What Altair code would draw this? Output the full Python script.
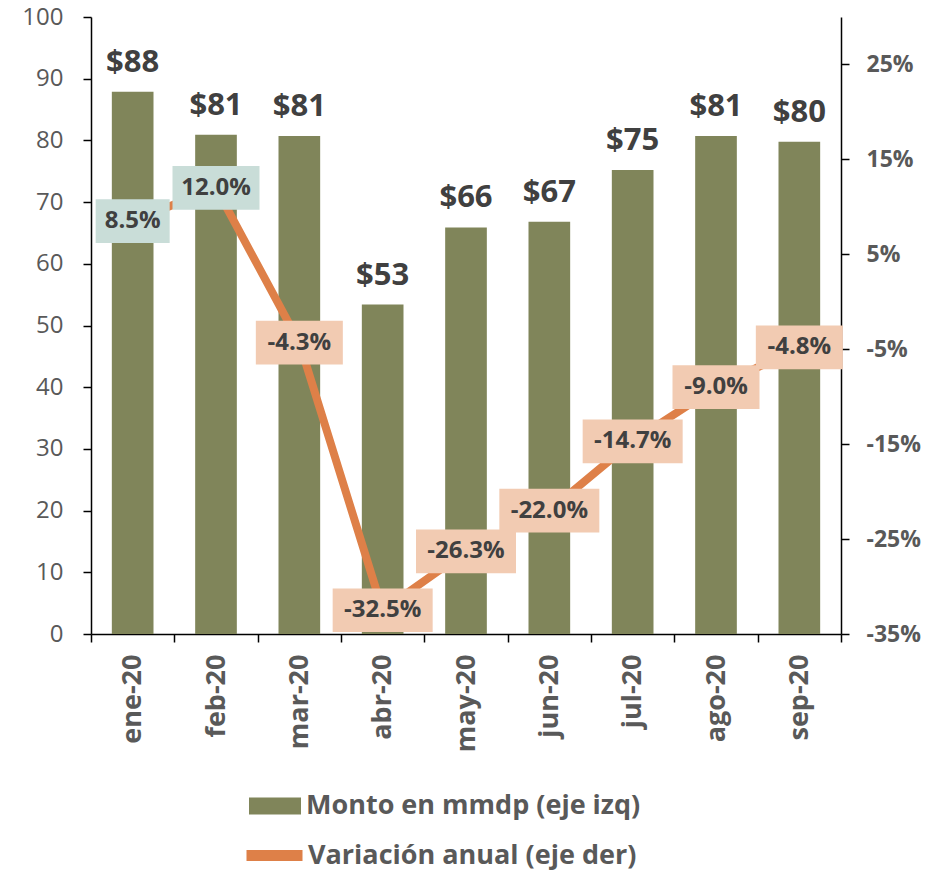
import altair as alt
import pandas as pd

meses = ["ene-20", "feb-20", "mar-20", "abr-20", "may-20", "jun-20", "jul-20", "ago-20", "sep-20"]
monto = [87.9, 80.9, 80.7, 53.4, 65.9, 66.8, 75.2, 80.7, 79.8]
variacion = [8.5, 12.0, -4.3, -32.5, -26.3, -22.0, -14.7, -9.0, -4.8]
serie_barras = "Monto en mmdp (eje izq)"
serie_linea = "Variación anual (eje der)"

GREEN = "#80855A"
ORANGE = "#DE8048"
PEACH = "#F2CBB2"
TEAL = "#C9DDD8"
TEXT = "#404040"
AXIS = "#595959"
FONT = "Open Sans"

df = pd.DataFrame({"mes": meses, "monto": monto, "vari": variacion})
df["monto_lbl"] = ["$" + str(int(round(v))) for v in monto]
df["var_lbl"] = [f"{v:.1f}%" for v in variacion]
df["box_w"] = [13 * len(s) + 22 for s in df["var_lbl"]]
df["box_lo"] = df["vari"] - 2.3
df["box_hi"] = df["vari"] + 2.3
df["serie_b"] = serie_barras
df["serie_l"] = serie_linea

x = alt.X(
    "mes:N", sort=meses,
    scale=alt.Scale(paddingInner=0, paddingOuter=0),
    axis=alt.Axis(title=None, labelAngle=-90, tickBand="extent", labelFont=FONT,
                  labelFontWeight="bold", labelFontSize=27, labelColor=AXIS, labelPadding=12,
                  tickSize=8, tickColor="black", tickWidth=1.5, domainColor="black", domainWidth=1.5),
)

y_left = alt.Y(
    "monto:Q", scale=alt.Scale(domain=[0, 100], nice=False),
    axis=alt.Axis(title=None, values=list(range(0, 101, 10)), labelFont=FONT, labelFontSize=24,
                  labelColor=AXIS, labelPadding=20, tickSize=8, tickColor="black", tickWidth=1.5,
                  domainColor="black", domainWidth=1.5, grid=False),
)

right_scale = alt.Scale(domain=[-35, 30], nice=False)
y_right = alt.Y(
    "vari:Q", scale=right_scale,
    axis=alt.Axis(title=None, orient="right", values=[-35, -25, -15, -5, 5, 15, 25],
                  labelExpr="datum.value + '%'", labelFont=FONT, labelFontWeight="bold",
                  labelFontSize=23, labelColor=AXIS, labelPadding=17, tickSize=8,
                  tickColor="black", tickWidth=1.5, domainColor="black", domainWidth=1.5, grid=False),
)

legend_common = dict(title=None, orient="none", labelFont=FONT, labelFontSize=27,
                     labelFontWeight="bold", labelColor=AXIS, labelLimit=0)

bars = alt.Chart(df).mark_bar(width=alt.RelativeBandSize(0.5)).encode(
    x=x, y=y_left,
    fill=alt.Fill("serie_b:N", scale=alt.Scale(range=[GREEN]),
                  legend=alt.Legend(legendX=158, legendY=763, labelOffset=5,
                                    symbolType="M-1,-0.33L1,-0.33L1,0.33L-1,0.33Z",
                                    symbolSize=2704, symbolStrokeWidth=0, **legend_common)),
)
bar_text = alt.Chart(df).mark_text(baseline="alphabetic", dy=-20, font=FONT, fontWeight="bold",
                                   fontSize=31, color=TEXT).encode(x=x, y=y_left, text="monto_lbl:N")

line = alt.Chart(df).mark_line(strokeWidth=8).encode(
    x=x, y=y_right,
    stroke=alt.Stroke("serie_l:N", scale=alt.Scale(range=[ORANGE]),
                      legend=alt.Legend(legendX=150, legendY=805, labelOffset=0, symbolType="stroke",
                                        symbolSize=3136, symbolStrokeWidth=11, **legend_common)),
)
boxes = alt.Chart(df).mark_bar().encode(
    x=x,
    y=alt.Y("box_lo:Q", scale=right_scale),
    y2="box_hi:Q",
    size=alt.Size("box_w:Q", scale=None, legend=None),
    fill=alt.condition("datum.vari > 0", alt.value(TEAL), alt.value(PEACH)),
)
line_text = alt.Chart(df).mark_text(font=FONT, fontWeight="bold", fontSize=24, color=TEXT).encode(
    x=x, y=alt.Y("vari:Q", scale=right_scale), text="var_lbl:N")

left = alt.layer(bars, bar_text)
right = alt.layer(line, boxes, line_text)

chart = alt.layer(left, right).resolve_scale(y="independent").properties(
    width=750, height=617,
    padding={"left": 83, "top": 9, "right": 84, "bottom": 236},
    autosize=alt.AutoSizeParams(type="none"),
).configure_view(stroke=None)

chart.save("out.html", embed_options={"renderer": "svg", "actions": False})
